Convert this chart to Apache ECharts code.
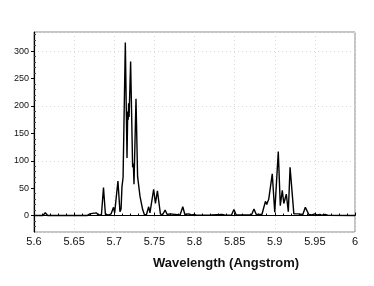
<!DOCTYPE html>
<html>
<head>
<meta charset="utf-8">
<script src="https://cdn.jsdelivr.net/npm/echarts@6/dist/echarts.min.js"></script>
<style>
html,body{margin:0;padding:0;background:#fff;}
#c{width:374px;height:286px;}
</style>
</head>
<body>
<div id="c"></div>
<script>
const wavelength = [
5.600,5.611,5.6141,5.617,5.666,5.6696,5.671,5.6729,5.675,5.6779,5.680,5.684,5.6866,5.689,5.693,5.696,5.6991,5.7005,5.7015,5.7046,
5.7071,5.7085,5.7096,5.711,5.7138,5.7159,5.7168,5.7174,5.7179,5.7185,5.7204,5.7229,5.7238,5.7246,5.7271,5.7291,5.7321,5.7354,5.7375,5.740,
5.7415,5.7429,5.7445,5.7491,5.7513,5.7538,5.7575,5.760,5.7634,5.766,5.7696,5.772,5.782,5.7854,5.788,5.7929,5.796,5.800,5.803,5.8209,
5.8346,5.838,5.846,5.8491,5.852,5.871,5.8741,5.877,5.884,5.8884,5.8900,5.8925,5.8969,5.9000,5.9044,5.9069,5.9094,5.9113,5.9144,5.9169,
5.9191,5.9238,5.926,5.9288,5.931,5.935,5.9381,5.9425,5.946,5.950,5.953,5.9563,5.959,5.9625,5.966,6.000
];
const intensity = [
0,0,5,0,0,3,1,4,1,5,1,1,51,2,1,3,15,5,8,63,
7,12,52,70,316,105,190,175,205,180,281,88,95,57,213,71,35,11,2,1,
3,16,5,48,22,45,3,1,10,2,3,1,1,16,2,3,1,2,0.5,1,
2,0.5,0.5,11,1,1,12,2,2,26,20,30,76,6,117,18,46,22,39,7,
88,3,1,3,1,2,15,2,1,3,1,2,0.5,2,0.5,0
];
const yTickLabels = [0,50,100,150,200,250,300];
const yMinorTicks = [-20,-10,10,20,30,40,60,70,80,90,110,120,130,140,160,170,180,190,210,220,230,240,260,270,280,290,310,320,330];
const xTitle = 'Wavelength (Angstrom)';

const chart = echarts.init(document.getElementById('c'), null, {renderer:'canvas'});
const font = 'Liberation Sans, Arial, Helvetica, sans-serif';
chart.setOption({
  animation:false,
  textStyle:{fontFamily:font},
  title:{
    text:xTitle, left:148, top:252,
    textStyle:{fontSize:13, fontWeight:'bold', color:'#111', fontFamily:font}
  },
  grid:{left:34, right:19, top:32, bottom:54, show:true, borderColor:'#8a8a8a', borderWidth:1, backgroundColor:'transparent'},
  xAxis:{
    type:'value', min:5.6, max:6, interval:0.05,
    axisLine:{lineStyle:{color:'#000', width:1.2}},
    axisTick:{inside:true, length:3, lineStyle:{color:'#000'}},
    minorTick:{show:true, splitNumber:5, length:2, lineStyle:{color:'#000'}},
    axisLabel:{fontSize:11, color:'#111', margin:4, fontFamily:font},
    splitLine:{show:true, lineStyle:{color:'#d8d8d8', type:[1,3], width:1}}
  },
  yAxis:[{
    type:'value', min:-30, max:335,
    axisLine:{show:true, lineStyle:{color:'#000', width:1.2}},
    axisTick:{show:true, length:3, customValues:yTickLabels, lineStyle:{color:'#000'}},
    axisLabel:{fontSize:9, color:'#111', margin:5, customValues:yTickLabels, fontFamily:font},
    splitLine:{show:false}
  },{
    type:'value', min:-30, max:335, position:'left',
    axisLine:{show:false},
    axisTick:{show:true, inside:true, length:2, customValues:yMinorTicks, lineStyle:{color:'#444'}},
    axisLabel:{show:false, customValues:yMinorTicks},
    splitLine:{show:false}
  },{
    type:'value', min:-30, max:335, position:'left',
    axisLine:{show:false}, axisTick:{show:false},
    axisLabel:{show:false, customValues:yTickLabels},
    splitLine:{show:true, customValues:yTickLabels, lineStyle:{color:'#d8d8d8', type:[1,3], width:1}}
  }],
  series:[{
    type:'line',
    yAxisIndex:0,
    data: wavelength.map((w,i)=>[w,intensity[i]]),
    showSymbol:false,
    lineStyle:{color:'#000', width:1.4},
    z:5
  }]
});
</script>
</body>
</html>
